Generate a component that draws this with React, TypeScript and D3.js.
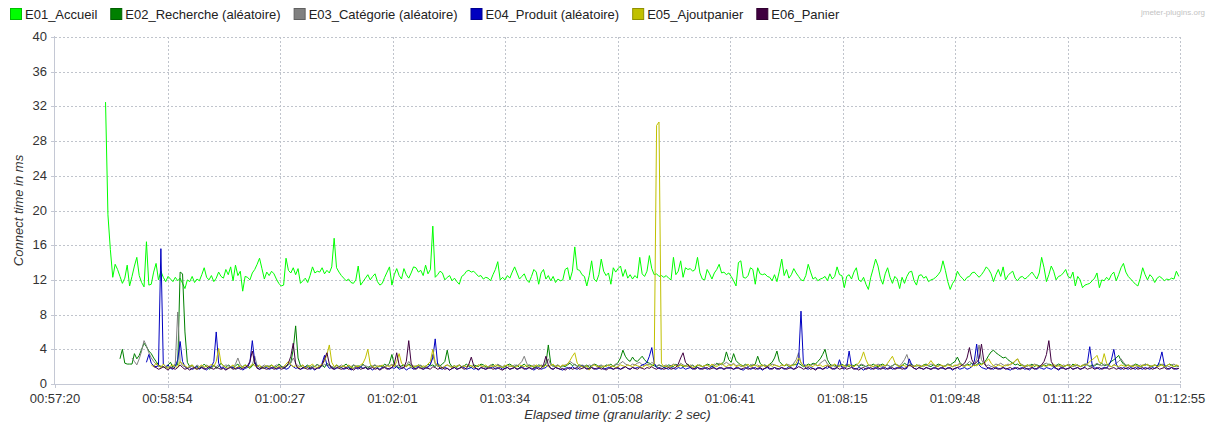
import React, { useEffect, useMemo } from "react";
import * as d3 from "d3";

// ---------------- DATA ----------------
const xTickLabels = ["00:57:20", "00:58:54", "01:00:27", "01:02:01", "01:03:34", "01:05:08", "01:06:41", "01:08:15", "01:09:48", "01:11:22", "01:12:55"];
const spanSeconds = 935; // 00:57:20 -> 01:12:55
const granularitySec = 2;
const yTicks = [0, 4, 8, 12, 16, 20, 24, 28, 32, 36, 40];

const seriesNames = ["E01_Accueil", "E02_Recherche (aléatoire)", "E03_Catégorie (aléatoire)", "E04_Produit (aléatoire)", "E05_Ajoutpanier", "E06_Panier"];
// index of the first sample (in 2 s steps after 00:57:20) of each series
const seriesStartIndex = [21, 27, 32, 38, 40, 41];

const e01Accueil = [
  32.5, 19.5, 15.5, 12.3, 13.8, 13.2, 12.4, 11.6, 12.2,
  13.7, 11.3, 12.4, 13.6, 14.6, 12.5, 11.7, 11.2, 16.4, 11.4,
  11.5, 12.9, 13.9, 12.0, 13.0, 12.3, 11.8, 12.4, 12.1, 11.8,
  12.3, 11.9, 12.2, 11.6, 11.0, 12.0, 11.8, 12.4, 11.7, 12.1,
  11.9, 12.6, 13.4, 12.3, 12.0, 12.5, 11.8, 12.2, 12.9, 12.4,
  12.2, 13.2, 12.6, 13.5, 11.9, 13.7, 12.5, 13.0, 10.7, 12.4,
  12.3, 12.0, 12.8, 13.2, 13.8, 14.5, 13.3, 12.1, 12.9, 12.5,
  13.0, 12.7, 12.1, 11.6, 11.3, 11.4, 14.5, 13.1, 12.8, 13.4,
  12.6, 13.3, 11.6, 11.9, 12.2, 11.7, 12.5, 13.5, 12.8, 13.0,
  12.9, 13.4, 12.7, 13.1, 12.8, 13.5, 16.8, 13.4, 12.9, 12.5,
  12.2, 11.9, 12.1, 11.7, 11.6, 12.0, 13.6, 11.4, 11.8, 12.2,
  12.6, 12.0, 12.4, 12.7, 11.8, 11.4, 11.6, 12.3, 12.9, 13.5,
  11.4, 12.6, 13.3, 12.5, 12.1, 13.3, 12.6, 12.2, 12.8, 13.5,
  13.4, 12.9, 13.1, 12.5, 13.7, 12.7, 13.2, 18.2, 12.3, 12.6,
  13.0, 12.8, 12.0, 12.3, 12.5, 11.9, 12.2, 11.8, 11.5, 12.4,
  12.6, 13.0, 13.1, 12.9, 13.0, 12.7, 12.4, 12.5, 12.1, 12.3,
  12.2, 11.9, 12.6, 13.2, 14.1, 12.0, 12.3, 12.0, 12.5, 12.2,
  12.9, 13.5, 12.8, 12.1, 12.4, 12.7, 12.0, 11.7, 12.4, 13.2,
  12.9, 11.5, 12.8, 13.2, 12.1, 12.5, 11.9, 12.4, 11.7, 12.1,
  11.9, 12.0, 13.2, 13.4, 12.0, 13.0, 15.8, 13.2, 13.1, 12.6,
  12.4, 11.3, 12.5, 14.2, 12.1, 11.8, 12.6, 14.4, 13.0, 12.5,
  12.8, 11.5, 13.4, 12.9, 13.3, 13.6, 12.4, 13.2, 12.2, 12.6,
  12.1, 12.5, 12.2, 14.6, 12.7, 12.4, 13.0, 14.8, 13.3, 12.6,
  12.7, 12.4, 12.5, 12.3, 12.5, 12.2, 12.0, 14.6, 12.6, 13.0,
  14.2, 12.3, 13.4, 13.2, 13.3, 13.0, 13.2, 14.6, 12.8, 12.1,
  12.0, 13.2, 12.7, 12.1, 12.8, 13.2, 13.8, 12.8, 12.9, 12.6,
  12.8, 12.4, 11.9, 11.3, 14.0, 14.2, 12.3, 12.2, 12.5, 13.4,
  13.2, 11.5, 13.4, 12.7, 12.6, 12.7, 12.4, 12.3, 11.9, 12.6,
  11.8, 13.0, 14.4, 12.5, 13.2, 12.2, 12.6, 13.3, 12.8, 12.4,
  12.0, 11.9, 12.5, 13.8, 12.9, 12.1, 12.3, 11.9, 12.1, 12.2,
  12.4, 11.9, 12.7, 12.1, 12.4, 13.5, 12.6, 12.5, 11.1, 12.4,
  12.6, 12.1, 12.9, 13.4, 12.0, 11.8, 12.3, 11.5, 10.9, 12.3,
  13.3, 14.4, 13.6, 12.2, 11.5, 12.7, 13.4, 12.3, 11.6, 12.4,
  12.1, 11.0, 12.3, 11.6, 12.4, 12.9, 13.0, 11.9, 11.4, 12.5,
  12.6, 12.2, 12.4, 11.8, 12.0, 12.1, 12.3, 12.6, 13.0, 14.2,
  13.1, 11.8, 10.9, 11.6, 12.0, 13.0, 12.5, 12.2, 11.9, 12.3,
  12.4, 12.8, 12.9, 12.6, 12.3, 12.6, 13.0, 13.5, 13.2, 12.7,
  11.8, 12.6, 13.2, 12.4, 13.5, 12.0, 12.5, 12.8, 13.0, 12.2,
  11.9, 12.3, 12.4, 12.1, 12.3, 12.6, 12.9, 12.5, 12.1, 12.8,
  14.6, 13.4, 11.8, 12.6, 13.6, 13.0, 12.0, 12.4, 12.5, 12.8,
  13.2, 12.4, 12.2, 12.9, 11.3, 12.4, 12.0, 11.1, 11.4, 11.5,
  11.6, 11.9, 12.2, 12.8, 11.1, 12.0, 11.9, 12.3, 12.0, 12.6,
  12.9, 11.9, 12.6, 13.4, 13.9, 12.9, 12.4, 12.1, 11.8, 11.5,
  11.3, 12.2, 13.4, 12.6, 12.0, 12.6, 12.3, 11.7, 12.2, 12.4,
  12.2, 11.9, 12.1, 12.0, 12.2, 12.1, 13.0, 12.4,
];

const e02Recherche = [
  2.9, 4.0, 2.4,
  2.3, 2.3, 2.3, 3.5, 2.9, 3.3, 4.0, 4.7, 4.3, 3.8,
  3.5, 3.0, 2.6, 2.2, 2.0, 2.0, 1.8, 2.2, 2.5, 1.9,
  2.2, 2.2, 12.9, 12.7, 6.0, 2.5, 2.0, 2.2, 1.9, 2.1,
  1.8, 2.0, 2.3, 2.0, 1.7, 1.9, 2.2, 1.8, 2.0, 2.4,
  2.1, 1.9, 2.2, 2.0, 1.8, 2.1, 2.3, 1.9, 2.0, 2.2,
  2.0, 1.8, 2.1, 2.4, 2.2, 1.9, 2.0, 1.8, 2.1, 2.0,
  2.2, 1.9, 2.0, 2.3, 2.1, 1.8, 2.0, 2.2, 2.5, 4.0,
  6.7, 3.0, 2.1, 1.9, 2.0, 2.2, 1.8, 2.1, 2.0, 2.3,
  2.0, 2.2, 1.9, 2.4, 2.1, 2.0, 1.8, 2.2, 2.0, 1.9,
  2.1, 2.3, 2.0, 1.8, 2.2, 2.0, 2.1, 1.9, 2.3, 2.0,
  1.8, 2.1, 2.0, 2.2, 1.9, 2.1, 2.0, 2.3, 2.1, 2.4,
  3.4, 2.2, 2.0, 1.9, 2.1, 2.2, 2.0, 2.3, 2.1, 1.9,
  2.0, 2.2, 2.1, 1.9, 2.0, 2.3, 2.1, 2.2, 2.0, 2.4,
  2.1, 2.3, 2.6, 3.9, 2.4, 2.0, 2.1, 1.9, 2.2, 2.0,
  2.1, 2.3, 2.0, 1.9, 2.2, 2.1, 2.0, 2.3, 2.2, 2.0,
  1.9, 2.1, 2.3, 2.0, 2.2, 2.1, 1.9, 2.0, 2.2, 2.3,
  2.1, 2.0, 2.2, 1.9, 2.1, 2.3, 2.0, 2.2, 2.1, 1.9,
  2.0, 2.2, 2.1, 2.0, 2.3, 4.5, 2.4, 2.1, 2.0, 2.2,
  1.9, 2.1, 2.0, 2.2, 2.4, 2.1, 2.3, 2.0, 2.2, 2.1,
  2.0, 2.2, 1.9, 2.1, 2.3, 2.2, 2.0, 2.1, 1.9, 2.2,
  2.1, 2.3, 2.0, 2.2, 2.5, 3.0, 3.9, 3.2, 2.8, 2.6,
  3.1, 2.7, 2.6, 2.9, 3.2, 2.8, 2.5, 2.4, 2.2, 2.1,
  2.0, 2.2, 2.1, 1.9, 2.0, 2.2, 2.1, 2.0, 2.3, 2.1,
  2.2, 2.0, 2.1, 2.3, 2.0, 2.2, 1.9, 2.1, 2.2, 2.0,
  2.1, 2.3, 2.2, 2.0, 2.1, 2.4, 2.2, 2.3, 2.6, 3.7,
  2.8, 2.5, 3.5, 2.7, 2.4, 2.2, 2.1, 2.3, 2.0, 2.2,
  2.1, 2.3, 3.2, 2.4, 2.1, 2.2, 2.0, 2.3, 2.5, 3.0,
  3.8, 2.6, 2.3, 2.1, 2.2, 2.0, 2.1, 2.3, 2.2, 2.4,
  2.2, 2.0, 2.1, 2.3, 2.2, 2.4, 2.3, 2.6, 2.9, 3.4,
  4.0, 2.8, 2.3, 2.1, 2.2, 2.0, 2.1, 2.3, 2.1, 2.2,
  2.0, 2.2, 2.1, 2.3, 2.0, 2.2, 2.1, 2.0, 2.2, 2.1,
  2.3, 2.1, 2.0, 2.2, 2.3, 2.1, 2.2, 2.0, 2.1, 2.3,
  2.2, 2.0, 2.1, 2.4, 2.2, 2.1, 2.3, 2.0, 2.2, 2.1,
  2.0, 2.2, 2.3, 2.1, 2.0, 2.2, 2.1, 2.3, 2.2, 2.0,
  2.1, 2.3, 2.2, 2.4, 2.6, 3.1, 2.5, 2.2, 2.1, 2.3,
  2.2, 2.4, 2.1, 2.2, 2.5, 2.3, 2.4, 2.8, 3.3, 3.7,
  3.9, 3.6, 3.4, 3.2, 3.0, 3.1, 2.8, 2.6, 2.4, 2.2,
  2.3, 2.1, 2.2, 2.0, 2.2, 2.1, 2.3, 2.0, 2.2, 2.1,
  2.0, 2.2, 2.1, 2.3, 2.2, 2.0, 2.1, 2.3, 2.2, 2.0,
  2.1, 2.2, 2.0, 2.3, 2.1, 2.2, 2.0, 2.1, 2.3, 2.2,
  2.0, 2.2, 2.1, 2.3, 2.2, 2.4, 2.1, 2.2, 2.3, 2.6,
  2.8, 3.0, 3.3, 2.7, 2.3, 2.1, 2.2, 2.0, 2.1, 2.3,
  2.2, 2.0, 2.1, 2.3, 2.2, 2.1, 2.0, 2.2, 2.1, 2.3,
  2.2, 2.0, 2.1, 2.3, 2.2, 2.0, 2.1, 2.0,
];

const e03Categorie = [
  3.0, 2.6, 2.2, 2.9, 3.8, 5.0, 4.4, 3.6,
  3.0, 2.6, 2.3, 2.0, 2.1, 1.9, 2.0, 1.8, 2.0, 1.9,
  2.4, 8.3, 2.6, 2.1, 2.0, 1.8, 2.1, 2.0, 1.9, 2.2,
  2.0, 2.1, 1.9, 2.2, 2.0, 1.8, 2.1, 2.0, 2.2, 1.9,
  2.0, 2.2, 2.1, 1.9, 2.0, 2.3, 3.0, 2.2, 2.0, 1.9,
  2.1, 2.0, 2.2, 3.2, 2.1, 1.9, 2.0, 2.2, 2.0, 2.1,
  1.9, 2.0, 2.2, 2.1, 1.9, 2.0, 2.1, 2.3, 2.4, 3.0,
  2.4, 2.1, 2.0, 2.2, 1.9, 2.0, 2.1, 1.9, 2.0, 2.2,
  2.1, 2.0, 2.3, 2.1, 2.2, 2.0, 1.9, 2.1, 2.0, 2.2,
  2.0, 1.9, 2.1, 2.0, 2.2, 2.1, 1.9, 2.0, 2.2, 2.1,
  2.0, 1.9, 2.1, 2.2, 2.0, 2.1, 1.9, 2.0, 2.2, 2.1,
  2.3, 2.0, 2.1, 2.2, 2.0, 1.9, 2.1, 2.6, 2.2, 2.0,
  2.1, 2.0, 2.2, 1.9, 2.1, 2.0, 2.2, 3.4, 2.3, 2.0,
  2.1, 1.9, 2.0, 2.2, 2.1, 2.0, 1.9, 2.1, 2.2, 2.0,
  2.1, 2.0, 2.2, 2.1, 1.9, 2.0, 2.2, 2.1, 2.0, 1.9,
  2.0, 2.2, 2.1, 2.0, 2.3, 2.1, 2.0, 2.2, 1.9, 2.1,
  2.0, 2.2, 2.1, 2.3, 2.6, 3.2, 2.4, 2.1, 2.0, 2.2,
  2.1, 2.0, 2.2, 2.1, 2.4, 2.9, 2.2, 2.0, 2.1, 2.2,
  2.0, 2.1, 2.2, 2.3, 2.6, 2.4, 2.2, 2.1, 2.0, 2.2,
  2.1, 2.0, 2.2, 2.1, 2.3, 2.0, 2.1, 2.2, 2.0, 2.1,
  2.2, 2.0, 2.1, 2.3, 2.2, 2.4, 2.6, 2.3, 2.2, 2.1,
  2.3, 2.2, 2.4, 2.5, 2.2, 2.1, 2.3, 2.2, 2.5, 2.3,
  2.1, 2.2, 2.0, 2.1, 2.2, 2.0, 2.1, 2.3, 2.2, 2.1,
  2.4, 2.2, 2.1, 2.0, 2.2, 2.1, 2.0, 2.2, 2.1, 2.0,
  2.1, 2.2, 2.0, 2.1, 2.3, 2.2, 2.4, 2.2, 2.3, 2.5,
  2.3, 2.2, 2.4, 2.1, 2.2, 2.0, 2.1, 2.2, 2.0, 2.1,
  2.3, 2.1, 2.2, 2.0, 2.1, 2.2, 2.0, 2.1, 2.3, 2.2,
  2.1, 2.0, 2.2, 2.1, 2.3, 2.2, 2.1, 2.4, 2.8, 3.6,
  2.4, 2.1, 2.2, 2.0, 2.1, 2.3, 2.2, 2.1, 2.4, 2.6,
  2.8, 2.3, 2.1, 2.2, 2.0, 2.1, 2.2, 2.0, 2.1, 2.3,
  2.2, 2.1, 2.0, 2.2, 2.1, 2.3, 2.2, 2.0, 2.1, 2.2,
  2.0, 2.1, 2.3, 2.2, 2.0, 2.1, 2.2, 2.0, 2.1, 2.3,
  2.2, 2.1, 2.4, 2.8, 3.4, 2.5, 2.2, 2.1, 2.0, 2.2,
  2.1, 2.0, 2.2, 2.1, 2.3, 2.2, 2.0, 2.1, 2.2, 2.0,
  2.1, 2.3, 2.2, 2.0, 2.1, 2.2, 2.4, 2.2, 2.1, 2.3,
  2.6, 2.4, 2.2, 2.9, 4.5, 2.8, 2.3, 2.1, 2.2, 2.0,
  2.1, 2.3, 2.2, 2.4, 2.2, 2.1, 2.3, 2.2, 2.4, 2.6,
  2.9, 2.4, 2.2, 2.1, 2.0, 2.2, 2.1, 2.3, 2.2, 2.0,
  2.1, 2.3, 2.4, 2.2, 2.1, 2.0, 2.2, 2.1, 2.0, 2.2,
  2.1, 2.3, 2.2, 2.0, 2.1, 2.2, 2.0, 2.1, 2.3, 2.2,
  2.1, 2.0, 2.2, 2.4, 2.2, 2.1, 2.3, 2.2, 2.1, 2.0,
  2.2, 2.4, 2.6, 2.9, 2.5, 2.2, 2.1, 2.0, 2.2, 2.1,
  2.0, 2.2, 2.1, 2.3, 2.2, 2.0, 2.1, 2.2, 2.0, 2.1,
  2.3, 2.2, 2.1, 2.0, 2.2, 2.3, 2.1, 2.0,
];

const e04Produit = [
  2.5, 3.4,
  2.4, 2.1, 2.0, 2.1, 15.6, 2.3, 2.0, 2.2, 1.8, 1.7,
  2.0, 2.8, 4.9, 2.6, 2.0, 1.8, 1.9, 1.7, 1.8, 2.0,
  1.7, 1.9, 1.8, 1.6, 1.9, 2.0, 2.6, 6.0, 2.4, 1.8,
  1.9, 1.7, 1.8, 2.0, 1.9, 1.7, 1.8, 1.9, 1.6, 1.8,
  1.9, 2.5, 5.0, 2.6, 1.9, 1.7, 1.8, 2.0, 1.9, 1.7,
  1.8, 1.9, 1.7, 1.8, 2.0, 1.9, 1.7, 1.8, 2.2, 2.0,
  1.8, 1.9, 1.7, 1.8, 2.0, 1.9, 1.7, 1.8, 1.6, 1.9,
  1.8, 2.4, 3.3, 2.2, 1.8, 1.9, 1.7, 1.8, 2.0, 1.9,
  1.7, 1.8, 1.9, 1.6, 1.8, 1.9, 1.7, 2.0, 1.8, 1.9,
  1.7, 1.8, 1.6, 1.9, 1.8, 1.7, 1.9, 2.0, 1.8, 1.7,
  1.9, 1.8, 2.0, 1.7, 1.8, 1.9, 1.6, 1.8, 1.9, 1.7,
  1.8, 2.0, 1.9, 1.7, 1.8, 1.9, 2.3, 3.0, 5.2, 2.3,
  1.8, 1.7, 1.9, 1.8, 1.6, 1.8, 1.9, 1.7, 1.8, 2.0,
  1.9, 1.7, 1.8, 1.9, 1.7, 1.8, 1.6, 1.9, 1.8, 1.7,
  1.9, 1.8, 2.0, 1.7, 1.8, 1.9, 1.7, 1.8, 1.9, 1.7,
  1.8, 1.9, 1.7, 1.8, 2.0, 1.8, 1.7, 1.9, 1.8, 1.6,
  1.8, 1.9, 1.7, 1.8, 1.9, 2.2, 1.8, 1.7, 1.9, 1.8,
  1.7, 1.6, 1.8, 1.9, 1.7, 2.0, 1.8, 1.7, 1.9, 2.1,
  1.9, 1.8, 1.7, 1.9, 1.8, 1.7, 1.8, 1.9, 1.7, 1.8,
  1.9, 1.8, 1.7, 1.9, 1.8, 1.7, 1.9, 2.0, 1.8, 1.7,
  1.9, 1.8, 1.9, 2.0, 2.2, 2.3, 2.5, 3.2, 4.2, 2.4,
  1.9, 1.8, 1.7, 1.9, 1.8, 1.7, 1.9, 1.8, 1.7, 1.9,
  1.8, 1.9, 1.7, 1.8, 1.9, 1.7, 1.8, 1.9, 1.7, 1.8,
  1.9, 1.7, 1.8, 2.0, 1.8, 1.7, 1.9, 1.8, 1.7, 1.9,
  1.8, 1.9, 1.7, 1.8, 1.9, 1.7, 1.6, 1.8, 1.9, 1.7,
  1.8, 1.9, 1.7, 1.8, 1.6, 1.8, 1.9, 1.7, 1.8, 1.9,
  1.7, 1.8, 1.9, 1.7, 1.8, 2.0, 1.8, 1.7, 1.9, 2.6,
  8.4, 2.4, 1.8, 1.7, 1.9, 1.8, 1.7, 1.9, 1.8, 1.7,
  1.9, 1.8, 2.0, 1.8, 1.7, 1.9, 2.8, 1.9, 1.7, 2.0,
  3.8, 2.0, 1.8, 1.7, 1.9, 1.8, 1.6, 1.8, 1.9, 1.7,
  1.8, 1.9, 1.7, 1.8, 1.9, 1.7, 1.8, 1.9, 1.7, 1.8,
  1.9, 1.8, 2.0, 1.7, 1.8, 2.9, 2.2, 1.8, 1.7, 1.9,
  1.8, 1.7, 1.9, 1.8, 1.7, 1.9, 1.8, 1.7, 1.9, 1.8,
  1.7, 1.9, 1.8, 1.6, 1.8, 1.9, 1.7, 1.8, 1.9, 1.7,
  1.8, 2.0, 2.6, 4.6, 2.2, 1.9, 1.8, 1.7, 1.9, 1.8,
  1.7, 1.9, 1.8, 1.7, 1.9, 1.8, 1.7, 1.6, 1.8, 1.9,
  1.7, 1.8, 1.9, 1.7, 1.8, 1.6, 1.9, 1.8, 1.7, 1.9,
  1.8, 1.7, 1.9, 1.8, 1.7, 1.9, 1.8, 1.6, 1.8, 1.9,
  1.7, 1.8, 1.9, 1.7, 1.8, 1.9, 1.7, 1.8, 2.0, 2.4,
  4.3, 2.2, 1.8, 1.9, 1.7, 1.8, 1.9, 1.8, 2.2, 2.8,
  4.0, 2.3, 1.8, 1.7, 1.9, 1.8, 1.7, 1.9, 1.8, 1.7,
  1.9, 1.8, 1.7, 1.9, 1.8, 1.7, 1.9, 1.8, 2.0, 2.6,
  3.7, 2.2, 1.8, 1.7, 1.9, 1.8, 1.7, 1.8,
];

const e05Ajoutpanier = [
  2.2, 2.0, 2.4, 2.1, 1.9, 2.3, 2.0, 1.8, 2.1, 2.2,
  2.0, 1.9, 2.6, 2.3, 2.1, 1.9, 2.0, 2.2, 1.8, 1.7,
  2.0, 2.2, 1.9, 2.1, 2.0, 2.3, 2.0, 2.6, 4.1, 2.4,
  2.1, 1.9, 1.8, 2.0, 2.2, 1.7, 2.0, 2.1, 1.9, 2.2,
  2.0, 1.9, 2.3, 2.1, 2.0, 2.2, 1.8, 2.0, 2.1, 1.9,
  2.2, 2.0, 1.8, 2.1, 1.9, 2.0, 2.3, 2.6, 2.2, 2.0,
  2.1, 1.9, 2.0, 2.2, 1.8, 2.0, 2.1, 2.3, 2.0, 1.9,
  2.1, 2.3, 2.6, 3.4, 4.5, 2.5, 2.0, 2.2, 1.9, 2.0,
  2.1, 1.9, 2.2, 2.0, 1.8, 2.1, 2.0, 2.2, 2.4, 3.0,
  4.0, 2.3, 2.0, 1.9, 2.1, 2.0, 2.2, 1.9, 2.1, 2.0,
  2.2, 2.0, 2.6, 3.5, 2.4, 2.1, 2.0, 2.2, 1.9, 2.1,
  2.0, 2.2, 1.9, 2.1, 2.0, 2.3, 2.6, 4.0, 2.5, 2.1,
  2.0, 1.8, 2.1, 2.2, 2.0, 1.9, 2.1, 2.0, 2.2, 1.9,
  2.1, 2.0, 2.2, 2.1, 1.9, 2.0, 2.2, 2.1, 2.0, 2.2,
  1.9, 2.1, 2.0, 2.2, 2.1, 2.0, 1.9, 2.1, 2.2, 2.0,
  2.1, 1.9, 2.0, 2.2, 2.1, 2.0, 2.2, 1.9, 2.1, 2.0,
  2.2, 2.0, 2.1, 1.9, 2.2, 2.0, 2.1, 2.3, 2.0, 2.1,
  2.0, 2.2, 2.1, 2.3, 2.7, 3.2, 3.6, 2.4, 2.1, 2.0,
  1.9, 2.1, 1.6, 2.0, 2.2, 2.1, 2.0, 1.9, 2.1, 2.0,
  2.2, 2.0, 2.1, 1.9, 2.0, 2.2, 2.1, 2.0, 2.2, 2.1,
  2.0, 2.2, 2.1, 2.0, 1.9, 2.1, 2.2, 2.0, 2.1, 2.3,
  29.8, 30.2, 2.4, 2.0, 2.1, 1.9, 2.0, 2.2, 2.1, 2.0,
  2.2, 2.1, 2.0, 2.2, 2.1, 1.9, 2.0, 2.2, 2.1, 2.0,
  2.1, 2.2, 2.0, 2.3, 2.1, 2.0, 2.2, 2.4, 2.1, 2.0,
  2.2, 2.1, 2.3, 2.0, 2.1, 2.2, 2.0, 2.1, 2.3, 2.0,
  2.1, 2.2, 2.0, 2.1, 2.2, 2.0, 2.1, 2.3, 2.0, 2.2,
  2.1, 2.0, 2.2, 2.1, 2.3, 2.0, 2.2, 2.1, 2.4, 3.0,
  2.5, 2.1, 2.0, 2.2, 2.1, 2.0, 2.3, 2.1, 2.2, 2.0,
  2.1, 2.2, 2.0, 2.1, 2.3, 2.1, 2.0, 2.2, 2.1, 2.0,
  2.2, 2.1, 2.0, 2.2, 2.4, 2.9, 3.7, 2.8, 2.2, 2.1,
  2.0, 2.2, 2.1, 2.0, 2.2, 2.1, 2.4, 2.8, 3.2, 2.5,
  2.1, 2.0, 2.2, 2.1, 2.0, 2.2, 2.1, 2.0, 2.2, 2.1,
  2.0, 2.2, 2.1, 2.3, 2.7, 2.3, 2.1, 2.0, 2.2, 2.1,
  2.0, 2.2, 2.1, 2.0, 2.2, 2.1, 2.3, 2.1, 2.0, 2.2,
  2.1, 2.0, 2.2, 2.1, 2.3, 2.2, 2.4, 2.6, 2.9, 2.4,
  2.1, 2.0, 2.2, 2.1, 2.0, 2.2, 2.1, 2.3, 2.4, 2.7,
  2.9, 2.3, 2.1, 2.0, 2.2, 2.1, 2.0, 2.2, 2.1, 2.0,
  2.2, 2.1, 2.0, 2.2, 2.1, 2.3, 2.0, 2.1, 2.2, 2.0,
  2.1, 2.2, 2.0, 2.1, 2.3, 2.1, 2.0, 2.2, 2.1, 2.3,
  2.6, 2.8, 3.0, 3.3, 2.5, 2.4, 3.5, 2.4, 2.1, 2.0,
  2.2, 2.1, 2.0, 2.2, 2.1, 2.0, 2.2, 2.1, 2.0, 2.2,
  2.1, 2.0, 2.2, 2.1, 2.3, 2.0, 2.1, 2.2, 2.0, 2.1,
  2.2, 2.0, 2.1, 2.3, 2.1, 2.0, 2.2, 2.1,
];

const e06Panier = [
  2.0, 1.9, 1.7, 1.8, 2.0, 1.8, 1.6, 1.9, 1.8,
  1.7, 1.9, 2.2, 1.9, 1.7, 1.8, 1.6, 1.8, 1.9, 1.7,
  1.8, 1.9, 1.7, 1.8, 2.0, 1.8, 1.7, 1.9, 1.8, 1.7,
  1.8, 1.6, 1.8, 1.9, 1.7, 1.8, 1.9, 1.7, 1.8, 1.9,
  2.1, 2.6, 3.8, 2.4, 1.8, 1.7, 1.9, 1.8, 1.7, 1.8,
  1.9, 1.7, 1.8, 1.9, 1.7, 1.8, 2.0, 2.4, 3.2, 4.7,
  2.3, 1.8, 1.7, 1.9, 1.8, 1.7, 1.8, 1.9, 1.7, 1.8,
  1.9, 2.2, 2.9, 3.6, 2.3, 1.8, 1.7, 1.9, 1.8, 1.7,
  1.8, 1.9, 1.7, 1.8, 1.6, 1.8, 1.9, 1.7, 1.8, 1.9,
  1.7, 1.8, 1.9, 1.7, 1.8, 1.6, 1.8, 1.9, 1.7, 1.8,
  1.9, 2.3, 3.6, 2.2, 1.8, 1.9, 2.6, 5.0, 2.4, 1.8,
  1.7, 1.9, 1.8, 1.7, 1.9, 1.8, 1.7, 2.0, 1.9, 1.7,
  1.8, 1.9, 1.7, 1.8, 1.6, 1.8, 1.9, 1.7, 1.8, 1.9,
  1.7, 1.8, 2.3, 3.1, 2.1, 1.8, 1.7, 1.9, 1.8, 1.7,
  1.8, 1.9, 1.7, 1.8, 1.9, 1.7, 1.6, 1.8, 1.9, 1.7,
  1.8, 1.9, 1.7, 1.8, 1.9, 1.7, 1.8, 1.9, 1.7, 1.8,
  1.9, 1.7, 1.8, 2.2, 3.2, 2.2, 1.8, 1.7, 1.9, 1.8,
  1.7, 1.8, 1.6, 1.8, 1.9, 1.7, 1.8, 1.9, 1.7, 1.8,
  1.9, 1.7, 1.8, 1.9, 1.7, 1.8, 1.9, 1.7, 1.8, 1.6,
  1.8, 1.9, 1.7, 1.8, 1.9, 1.7, 1.8, 2.0, 1.8, 1.7,
  1.9, 1.8, 1.7, 1.9, 1.8, 1.7, 1.9, 1.8, 2.0, 1.8,
  1.7, 1.9, 1.8, 1.7, 1.8, 1.9, 1.7, 1.8, 1.9, 2.3,
  3.0, 3.6, 2.5, 2.2, 1.9, 1.8, 1.7, 1.9, 1.8, 1.7,
  1.8, 1.9, 1.7, 1.8, 1.9, 1.7, 1.8, 1.9, 1.7, 1.8,
  1.9, 1.8, 1.7, 1.9, 1.8, 1.7, 1.8, 1.9, 1.7, 1.8,
  1.9, 1.7, 1.8, 1.9, 1.7, 1.8, 2.0, 1.8, 1.7, 1.9,
  1.8, 1.7, 1.9, 1.8, 1.7, 1.8, 1.9, 1.7, 1.8, 2.0,
  1.9, 1.7, 1.8, 1.9, 1.7, 1.8, 1.6, 1.8, 1.9, 1.7,
  1.8, 2.1, 1.9, 1.7, 1.8, 1.9, 1.7, 1.8, 1.9, 1.7,
  1.8, 1.9, 1.7, 1.8, 1.6, 1.8, 1.9, 1.7, 1.8, 1.9,
  1.7, 1.8, 1.9, 1.7, 1.8, 1.9, 1.7, 1.8, 1.9, 1.7,
  1.8, 1.9, 1.7, 1.8, 1.9, 2.2, 2.0, 1.8, 1.7, 1.9,
  1.8, 1.7, 1.9, 1.8, 1.7, 1.8, 1.9, 1.7, 1.8, 1.9,
  1.7, 1.8, 1.9, 1.7, 1.8, 1.9, 2.0, 2.2, 2.4, 3.0,
  4.2, 2.8, 2.3, 2.5, 2.9, 4.6, 2.6, 2.0, 1.8, 1.7,
  1.9, 1.8, 1.7, 1.8, 1.9, 1.7, 1.8, 1.9, 1.7, 1.8,
  1.9, 1.7, 1.8, 1.9, 1.7, 1.8, 1.9, 1.7, 1.8, 2.0,
  2.2, 2.6, 3.4, 5.0, 2.6, 2.1, 1.8, 1.7, 1.9, 1.8,
  1.7, 1.8, 1.9, 1.7, 1.8, 1.9, 1.7, 1.8, 1.9, 1.7,
  1.8, 1.9, 1.7, 1.8, 1.9, 1.7, 1.8, 1.9, 1.7, 1.8,
  1.9, 1.7, 1.8, 1.9, 1.7, 1.8, 1.9, 1.7, 1.8, 1.9,
  1.7, 1.8, 1.9, 1.7, 1.8, 1.9, 1.7, 1.8, 1.9, 1.7,
  1.8, 1.9, 1.7, 1.8, 1.9, 1.7, 1.8, 1.8,
];

const seriesValues = [e01Accueil, e02Recherche, e03Categorie, e04Produit, e05Ajoutpanier, e06Panier];

// ---------------- STYLE ----------------
const seriesColors = ["#00ff00", "#008000", "#808080", "#0000c0", "#c0c000", "#400040"];
const W = 1214;
const H = 423;
const FONT = "'Liberation Sans', Arial, Helvetica, sans-serif";
const FS = 13;
const PLOT = { left: 55, right: 1180, top: 37, bottom: 384 };

function measure(text: string, font: string): number {
  const c = document.createElement("canvas").getContext("2d");
  if (!c) return text.length * 7;
  c.font = font;
  return c.measureText(text).width;
}

export default function App() {
  useEffect(() => {
    document.body.style.margin = "0";
  }, []);

  const x = d3.scaleLinear().domain([0, spanSeconds]).range([PLOT.left, PLOT.right]);
  const y = d3.scaleLinear().domain([0, 40]).range([PLOT.bottom, PLOT.top]);

  const line = d3
    .line<[number, number]>()
    .x((d) => x(d[0]))
    .y((d) => y(d[1]));

  const paths = seriesValues.map((vals, s) =>
    line(vals.map((v, k) => [(seriesStartIndex[s] + k) * granularitySec, v] as [number, number])) || ""
  );

  const xTickValues = xTickLabels.map((_, i) => (i * spanSeconds) / (xTickLabels.length - 1));

  const legendItems = useMemo(() => {
    let cx = 10;
    return seriesNames.map((name) => {
      const w = measure(name, `${FS}px 'Liberation Sans'`);
      const item = { name, sx: cx, tx: cx + 15 };
      cx = cx + 15 + w + 13;
      return item;
    });
  }, []);

  return (
    <svg
      width={W}
      height={H}
      style={{ display: "block", position: "absolute", left: 0, top: 0, background: "#fff" }}
      fontFamily={FONT}
    >
      <rect x={0} y={0} width={W} height={H} fill="#ffffff" />
      {/* legend */}
      {legendItems.map((it, i) => (
        <g key={it.name}>
          <rect
            x={it.sx + 0.5}
            y={8.5}
            width={11}
            height={11}
            fill={seriesColors[i]}
            stroke={d3.color(seriesColors[i])!.darker(0.8).formatHex()}
            strokeWidth={1}
          />
          <text x={it.tx} y={19} fontSize={FS} fill="#222">
            {it.name}
          </text>
        </g>
      ))}
      <text x={1205} y={15} fontSize={8} fill="#c4c4c4" textAnchor="end">
        jmeter-plugins.org
      </text>

      {/* grid */}
      {yTicks.filter((t) => t > 0).map((t) => (
        <line key={"gy" + t} x1={PLOT.left} x2={PLOT.right} y1={Math.round(y(t)) + 0.5} y2={Math.round(y(t)) + 0.5}
          stroke="#c0c4cc" strokeDasharray="2,2" strokeWidth={1} />
      ))}
      {xTickValues.filter((t) => t > 0).map((t) => (
        <line key={"gx" + t} x1={Math.round(x(t)) + 0.5} x2={Math.round(x(t)) + 0.5} y1={PLOT.top} y2={PLOT.bottom}
          stroke="#c0c4cc" strokeDasharray="2,2" strokeWidth={1} />
      ))}

      {/* axes */}
      <line x1={PLOT.left - 0.5} x2={PLOT.left - 0.5} y1={PLOT.top - 1} y2={PLOT.bottom + 0.5} stroke="#c4c8d4" />
      <line x1={PLOT.left - 0.5} x2={PLOT.right + 0.5} y1={PLOT.bottom + 0.5} y2={PLOT.bottom + 0.5} stroke="#c4c8d4" />
      {yTicks.map((t) => (
        <g key={"ty" + t}>
          <line x1={PLOT.left - 4} x2={PLOT.left} y1={Math.round(y(t)) + 0.5} y2={Math.round(y(t)) + 0.5} stroke="#c4c8d4" />
          <text x={47} y={y(t) + 4} fontSize={FS} textAnchor="end" fill="#333">
            {t}
          </text>
        </g>
      ))}
      {xTickValues.map((t, i) => (
        <g key={"tx" + i}>
          <line x1={Math.round(x(t)) + 0.5} x2={Math.round(x(t)) + 0.5} y1={PLOT.bottom} y2={PLOT.bottom + 4} stroke="#c4c8d4" />
          <text x={x(t)} y={403} fontSize={FS} textAnchor="middle" fill="#333">
            {xTickLabels[i]}
          </text>
        </g>
      ))}
      <text x={(PLOT.left + PLOT.right) / 2} y={418.5} fontSize={FS} fontStyle="italic" textAnchor="middle" fill="#333">
        Elapsed time (granularity: 2 sec)
      </text>
      <text
        transform={`translate(23, ${(PLOT.top + PLOT.bottom) / 2}) rotate(-90)`}
        fontSize={FS}
        fontStyle="italic"
        textAnchor="middle"
        fill="#333"
      >
        Connect time in ms
      </text>

      {/* series */}
      <g fill="none" strokeWidth={1} strokeLinejoin="round">
        {paths.map((d, i) => (
          <path key={seriesNames[i]} d={d} stroke={seriesColors[i]} />
        ))}
      </g>
    </svg>
  );
}
